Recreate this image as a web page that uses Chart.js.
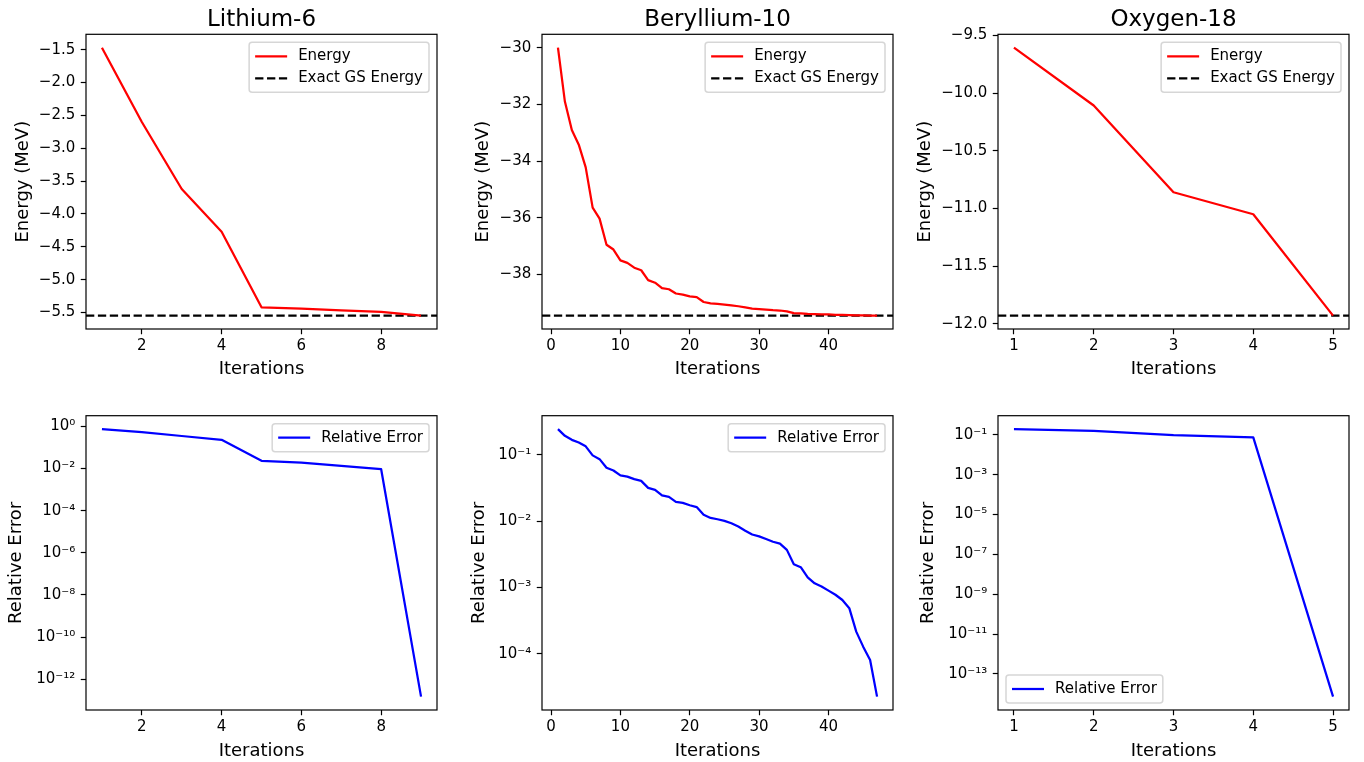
<!DOCTYPE html>
<html>
<head>
<meta charset="utf-8">
<script src="https://cdn.jsdelivr.net/npm/chart.js@4.4.1/dist/chart.umd.min.js"></script>
<style>
  body { margin: 0; background: #fff; width: 1364px; height: 762px; position: relative; overflow: hidden; }
  canvas { position: absolute; }
</style>
</head>
<body>
<canvas id="liEnergy"></canvas>
<canvas id="beEnergy"></canvas>
<canvas id="oEnergy"></canvas>
<canvas id="liError"></canvas>
<canvas id="beError"></canvas>
<canvas id="oError"></canvas>
<script>
// ---- data ----
const liIter = [1, 2, 3, 4, 5, 6, 7, 8, 9];
const liEnergy = [-1.47, -2.6, -3.62, -4.27, -5.42, -5.44, -5.465, -5.49, -5.546];
const liExact = -5.546;
const liRelErr = [0.746, 0.53, 0.35, 0.23, 0.0232, 0.0193, 0.0135, 0.0093, 1.5e-13];

const beIter = [1, 2, 3, 4, 5, 6, 7, 8, 9, 10, 11, 12, 13, 14, 15, 16, 17, 18, 19, 20, 21, 22, 23, 24,
  25, 26, 27, 28, 29, 30, 31, 32, 33, 34, 35, 36, 37, 38, 39, 40, 41, 42, 43, 44, 45, 46, 47];
const beEnergy = [-30.0, -31.9, -32.9, -33.42, -34.22, -35.64, -36.03, -36.95, -37.12, -37.5,
  -37.59, -37.76, -37.85, -38.2, -38.29, -38.48, -38.52, -38.67, -38.71, -38.77, -38.8, -38.97,
  -39.02, -39.04, -39.06, -39.09, -39.12, -39.16, -39.2, -39.22, -39.24, -39.26, -39.27, -39.3,
  -39.36, -39.37, -39.39, -39.4, -39.41, -39.41, -39.42, -39.42, -39.43, -39.44, -39.445, -39.447, -39.449];
const beExact = -39.45;
const beRelErr = [0.244, 0.193, 0.168, 0.153, 0.134, 0.098, 0.086, 0.064, 0.058, 0.049, 0.047,
  0.043, 0.0405, 0.0318, 0.0297, 0.0244, 0.0233, 0.0196, 0.0189, 0.0174, 0.0163, 0.0125, 0.0112,
  0.0107, 0.0101, 0.0093, 0.0083, 0.0072, 0.0063, 0.0059, 0.0054, 0.0049, 0.0046, 0.0037, 0.00225,
  0.00203, 0.00143, 0.00116, 0.00104, 0.0009, 0.00078, 0.00065, 0.00049, 0.000217, 0.000129,
  0.0000813, 0.0000228];

const oIter = [1, 2, 3, 4, 5];
const oEnergy = [-9.607, -10.108, -10.859, -11.05, -11.928];
const oExact = -11.928;
const oRelErr = [0.193, 0.159, 0.096, 0.0735, 7.2e-15];

// ---- tick values / labels ----
const liXTicks = [2, 4, 6, 8];
const liXLabels = ['2', '4', '6', '8'];
const beXTicks = [0, 10, 20, 30, 40];
const beXLabels = ['0', '10', '20', '30', '40'];
const oXTicks = [1, 2, 3, 4, 5];
const oXLabels = ['1', '2', '3', '4', '5'];

const liEnergyTicks = [-1.5, -2.0, -2.5, -3.0, -3.5, -4.0, -4.5, -5.0, -5.5];
const liEnergyLabels = ['−1.5', '−2.0', '−2.5', '−3.0', '−3.5', '−4.0', '−4.5', '−5.0', '−5.5'];
const beEnergyTicks = [-30, -32, -34, -36, -38];
const beEnergyLabels = ['−30', '−32', '−34', '−36', '−38'];
const oEnergyTicks = [-9.5, -10.0, -10.5, -11.0, -11.5, -12.0];
const oEnergyLabels = ['−9.5', '−10.0', '−10.5', '−11.0', '−11.5', '−12.0'];

const liErrTicks = [1, 1e-2, 1e-4, 1e-6, 1e-8, 1e-10, 1e-12];
const liErrLabels = ['10⁰', '10⁻²', '10⁻⁴', '10⁻⁶', '10⁻⁸', '10⁻¹⁰', '10⁻¹²'];
const beErrTicks = [1e-1, 1e-2, 1e-3, 1e-4];
const beErrLabels = ['10⁻¹', '10⁻²', '10⁻³', '10⁻⁴'];
const oErrTicks = [1e-1, 1e-3, 1e-5, 1e-7, 1e-9, 1e-11, 1e-13];
const oErrLabels = ['10⁻¹', '10⁻³', '10⁻⁵', '10⁻⁷', '10⁻⁹', '10⁻¹¹', '10⁻¹³'];

// ---- layout (pixels) ----
const FONT = 'DejaVu Sans';
const COLS = [
  { left: 0,   width: 455, axisW: 86, padRight: 18, yTitleTop: 12.9, yTitleBot: 5.4 },
  { left: 455, width: 455, axisW: 87, padRight: 17, yTitleTop: 17.2, yTitleBot: 13.7 },
  { left: 910, width: 454, axisW: 88, padRight: 15, yTitleTop: 5.0,  yTitleBot: 7.5 }
];
const ROWS = [
  { top: 0,   height: 390, padTop: 34.3, axisH: 61, xTitlePad: 10 },
  { top: 390, height: 372, padTop: 25.7, axisH: 52, xTitlePad: 0 }
];

Chart.defaults.font.family = FONT;
Chart.defaults.color = '#000';

// matplotlib-like 5% margins
function autoLim(values, log) {
  const v = log ? values.map(Math.log10) : values;
  const lo = Math.min(...v), hi = Math.max(...v), m = (hi - lo) * 0.05;
  return log ? [Math.pow(10, lo - m), Math.pow(10, hi + m)] : [lo - m, hi + m];
}

const axesFrame = {
  id: 'axesFrame',
  afterDatasetsDraw(chart) {
    const { ctx, chartArea: a } = chart;
    ctx.save();
    ctx.strokeStyle = '#000';
    ctx.lineWidth = 1.2;
    ctx.strokeRect(a.left, a.top, a.right - a.left, a.bottom - a.top);
    ctx.restore();
  }
};

// title centred over the axes box (matplotlib ax.set_title)
const panelTitle = {
  id: 'panelTitle',
  afterDraw(chart, args, opts) {
    if (!opts.text) return;
    const { ctx, chartArea: a } = chart;
    ctx.save();
    ctx.font = '23px "' + FONT + '"';
    ctx.fillStyle = '#000';
    ctx.textAlign = 'center';
    ctx.textBaseline = 'alphabetic';
    ctx.fillText(opts.text, (a.left + a.right) / 2, 26.3);
    ctx.restore();
  }
};

// legend drawn inside the axes, like matplotlib
const insetLegend = {
  id: 'insetLegend',
  afterDatasetsDraw(chart, args, opts) {
    const { ctx, chartArea: a } = chart;
    const items = chart.data.datasets;
    ctx.save();
    ctx.font = '15px "' + FONT + '"';
    const textW = Math.max(...items.map(d => ctx.measureText(d.label).width));
    const w = 49 + textW + 6;
    const h = 12 + items.length * 16 + (items.length - 1) * 6;
    const x = opts.loc === 'lower left' ? a.left + 8 : a.right - 8 - w;
    const y = opts.loc === 'lower left' ? a.bottom - 7 - h : a.top + 8;
    ctx.beginPath();
    ctx.roundRect(x, y, w, h, 3);
    ctx.fillStyle = 'rgba(255,255,255,0.8)';
    ctx.fill();
    ctx.strokeStyle = 'rgba(204,204,204,0.8)';
    ctx.lineWidth = 1.5;
    ctx.stroke();
    items.forEach((d, i) => {
      const cy = y + 14 + i * 22;
      ctx.strokeStyle = d.borderColor;
      ctx.lineWidth = d.borderWidth;
      ctx.setLineDash(d.borderDash || []);
      ctx.beginPath();
      ctx.moveTo(x + 6, cy);
      ctx.lineTo(x + 38, cy);
      ctx.stroke();
      ctx.setLineDash([]);
      ctx.fillStyle = '#000';
      ctx.textBaseline = 'middle';
      ctx.fillText(d.label, x + 49, cy);
    });
    ctx.restore();
  }
};

function xAxis(lim, ticks, labels, row) {
  return {
    type: 'linear', min: lim[0], max: lim[1], bounds: 'data',
    afterBuildTicks: s => { s.ticks = ticks.map(v => ({ value: v })); },
    afterFit: s => { s.height = row.axisH; },
    ticks: { autoSkip: false, maxRotation: 0, padding: 3, font: { size: 15 }, color: '#000',
      callback: (v, i) => labels[i] },
    grid: { drawOnChartArea: false, tickLength: 5.25, tickWidth: 1.2, tickColor: '#000' },
    border: { display: false },
    title: { display: true, text: 'Iterations', color: '#000', font: { size: 18 },
      padding: { top: 0, bottom: row.xTitlePad } }
  };
}

function yAxis(type, lim, ticks, labels, text, col, titleOff) {
  return {
    type, min: lim[0], max: lim[1], bounds: 'data',
    afterBuildTicks: s => { s.ticks = ticks.map(v => ({ value: v })); },
    afterFit: s => { s.width = col.axisW; },
    ticks: { autoSkip: false, padding: 5.5, font: { size: 15 }, color: '#000',
      callback: (v, i) => labels[i] },
    grid: { drawOnChartArea: false, tickLength: 5.25, tickWidth: 1.2, tickColor: '#000' },
    border: { display: false },
    title: { display: true, text, color: '#000', font: { size: 18 },
      padding: { top: titleOff, bottom: 0 } }
  };
}

function placeCanvas(id, col, row) {
  const el = document.getElementById(id);
  el.width = col.width;
  el.height = row.height;
  el.style.left = col.left + 'px';
  el.style.top = row.top + 'px';
  return el;
}

function energyPanel(id, colIdx, title, iter, energy, exact, xTicks, xLabels, yTicks, yLabels) {
  const col = COLS[colIdx], row = ROWS[0];
  const xLim = autoLim(iter, false);
  const yLim = autoLim(energy.concat([exact]), false);
  new Chart(placeCanvas(id, col, row), {
    type: 'line',
    data: {
      datasets: [{
        label: 'Energy',
        data: iter.map((x, i) => ({ x, y: energy[i] })),
        borderColor: '#ff0000', borderWidth: 2.25, pointRadius: 0, tension: 0,
        borderJoinStyle: 'round'
      }, {
        label: 'Exact GS Energy',
        data: [{ x: xLim[0], y: exact }, { x: xLim[1], y: exact }],
        borderColor: '#000000', borderWidth: 2.25, borderDash: [8.3, 3.6], pointRadius: 0
      }]
    },
    options: {
      responsive: false, animation: false, devicePixelRatio: 1,
      layout: { padding: { top: row.padTop, right: col.padRight, left: 0, bottom: 0 } },
      scales: {
        x: xAxis(xLim, xTicks, xLabels, row),
        y: yAxis('linear', yLim, yTicks, yLabels, 'Energy (MeV)', col, col.yTitleTop)
      },
      plugins: {
        legend: { display: false },
        tooltip: { enabled: false },
        panelTitle: { text: title },
        insetLegend: { loc: 'upper right' }
      }
    },
    plugins: [axesFrame, insetLegend, panelTitle]
  });
}

function errorPanel(id, colIdx, iter, relErr, xTicks, xLabels, yTicks, yLabels, loc) {
  const col = COLS[colIdx], row = ROWS[1];
  const xLim = autoLim(iter, false);
  const yLim = autoLim(relErr, true);
  new Chart(placeCanvas(id, col, row), {
    type: 'line',
    data: {
      datasets: [{
        label: 'Relative Error',
        data: iter.map((x, i) => ({ x, y: relErr[i] })),
        borderColor: '#0000ff', borderWidth: 2.25, pointRadius: 0, tension: 0,
        borderJoinStyle: 'round'
      }]
    },
    options: {
      responsive: false, animation: false, devicePixelRatio: 1,
      layout: { padding: { top: row.padTop, right: col.padRight, left: 0, bottom: 0 } },
      scales: {
        x: xAxis(xLim, xTicks, xLabels, row),
        y: yAxis('logarithmic', yLim, yTicks, yLabels, 'Relative Error', col, col.yTitleBot)
      },
      plugins: {
        legend: { display: false },
        tooltip: { enabled: false },
        insetLegend: { loc }
      }
    },
    plugins: [axesFrame, insetLegend]
  });
}

energyPanel('liEnergy', 0, 'Lithium-6', liIter, liEnergy, liExact, liXTicks, liXLabels, liEnergyTicks, liEnergyLabels);
energyPanel('beEnergy', 1, 'Beryllium-10', beIter, beEnergy, beExact, beXTicks, beXLabels, beEnergyTicks, beEnergyLabels);
energyPanel('oEnergy', 2, 'Oxygen-18', oIter, oEnergy, oExact, oXTicks, oXLabels, oEnergyTicks, oEnergyLabels);

errorPanel('liError', 0, liIter, liRelErr, liXTicks, liXLabels, liErrTicks, liErrLabels, 'upper right');
errorPanel('beError', 1, beIter, beRelErr, beXTicks, beXLabels, beErrTicks, beErrLabels, 'upper right');
errorPanel('oError', 2, oIter, oRelErr, oXTicks, oXLabels, oErrTicks, oErrLabels, 'lower left');
</script>
</body>
</html>
